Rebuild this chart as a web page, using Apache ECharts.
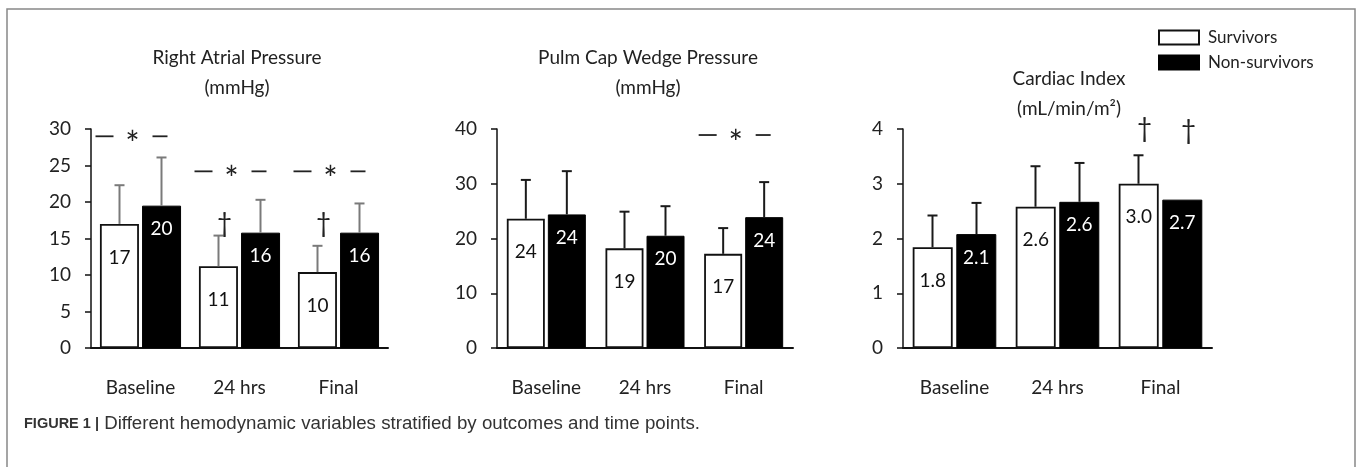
<!DOCTYPE html>
<html><head><meta charset="utf-8">
<script src="https://cdn.jsdelivr.net/npm/echarts@6/dist/echarts.min.js"></script>
<style>html,body{margin:0;padding:0;background:#fff}#c{width:1358px;height:467px}</style>
</head><body><div id="c"></div>
<script>
// ---------- data ----------
const categories = ['Baseline', '24 hrs', 'Final'];

const raSurv = [17.0, 11.2, 10.4];
const raSurvSD = [5.3, 4.2, 3.6];
const raNon = [19.5, 15.8, 15.8];
const raNonSD = [6.6, 4.5, 4.0];
const raSurvLabels = ['17', '11', '10'];
const raNonLabels = ['20', '16', '16'];
const raStarLevel = [29.0, 24.2, 24.2];      // "— * —" marks (axis units)
const raDaggerSurv = [null, 17.1, 17.1];      // † over survivors

const pcSurv = [23.6, 18.2, 17.2];
const pcSurvSD = [7.1, 6.7, 4.7];
const pcNon = [24.4, 20.5, 23.9];
const pcNonSD = [7.9, 5.4, 6.4];
const pcSurvLabels = ['24', '19', '17'];
const pcNonLabels = ['24', '20', '24'];
const pcStarLevel = [null, null, 38.9];

const ciSurv = [1.84, 2.58, 3.0];
const ciSurvSD = [0.58, 0.74, 0.52];
const ciNon = [2.08, 2.67, 2.71];
const ciNonSD = [0.57, 0.71, null];
const ciSurvLabels = ['1.8', '2.6', '3.0'];
const ciNonLabels = ['2.1', '2.6', '2.7'];
const ciDaggerSurv = [null, null, 4.0];
const ciDaggerNon = [null, null, 3.97];

const raTicks = {min: 0, max: 30, interval: 5};
const pcTicks = {min: 0, max: 40, interval: 10};
const ciTicks = {min: 0, max: 4, interval: 1};

// ---------- layout / styles ----------
const FONT = 'Lato';
const panels = [
  {left: 91, width: 297, barW: 39, gap: '8%', half: 21, errColor: '#7a7a7a',
   surv: raSurv, survSD: raSurvSD, non: raNon, nonSD: raNonSD, sl: raSurvLabels, nl: raNonLabels, ticks: raTicks,
   star: raStarLevel, dagS: raDaggerSurv, dagN: null},
  {left: 497, width: 296, barW: 38, gap: '8%', half: 20.5, errColor: '#1a1a1a',
   surv: pcSurv, survSD: pcSurvSD, non: pcNon, nonSD: pcNonSD, sl: pcSurvLabels, nl: pcNonLabels, ticks: pcTicks,
   star: pcStarLevel, dagS: null, dagN: null},
  {left: 903, width: 309, barW: 40, gap: '9%', half: 22, errColor: '#1a1a1a',
   surv: ciSurv, survSD: ciSurvSD, non: ciNon, nonSD: ciNonSD, sl: ciSurvLabels, nl: ciNonLabels, ticks: ciTicks,
   star: null, dagS: ciDaggerSurv, dagN: ciDaggerNon}
];

const grid = [], xAxis = [], yAxis = [], series = [];
panels.forEach((p, i) => {
  grid.push({left: p.left, width: p.width, top: 129, height: 219, containLabel: false});
  xAxis.push({type: 'category', gridIndex: i, data: categories,
    axisLine: {lineStyle: {color: '#111', width: 2}}, axisTick: {show: false},
    axisLabel: {color: '#222', fontSize: 19, fontFamily: FONT, margin: 30}});
  yAxis.push({type: 'value', gridIndex: i, min: p.ticks.min, max: p.ticks.max, interval: p.ticks.interval,
    splitLine: {show: false},
    axisLine: {show: true, lineStyle: {color: '#111', width: 1.5}},
    axisTick: {show: true, inside: false, length: 6, lineStyle: {color: '#111', width: 1.5}},
    axisLabel: {color: '#222', fontSize: 19, fontFamily: FONT, margin: 20}});
  series.push({type: 'bar', name: 'Survivors', xAxisIndex: i, yAxisIndex: i, data: p.surv,
    barWidth: p.barW, barGap: p.gap,
    itemStyle: {color: '#fff', borderColor: '#111', borderWidth: 1.8},
    label: {show: true, position: 'insideTop', distance: 24, color: '#111', fontSize: 19, fontFamily: FONT,
      formatter: d => p.sl[d.dataIndex]}});
  series.push({type: 'bar', name: 'Non-survivors', xAxisIndex: i, yAxisIndex: i, data: p.non,
    barWidth: p.barW, barGap: p.gap,
    itemStyle: {color: '#000', borderColor: '#000', borderWidth: 1},
    label: {show: true, position: 'insideTop', distance: 14, color: '#fff', fontSize: 19, fontFamily: FONT,
      formatter: d => p.nl[d.dataIndex]}});
  // error bars
  const errData = [];
  categories.forEach((c, k) => {
    if (p.survSD[k] != null) errData.push([k, p.surv[k], p.survSD[k], -1]);
    if (p.nonSD[k] != null) errData.push([k, p.non[k], p.nonSD[k], 1]);
  });
  series.push({type: 'custom', xAxisIndex: i, yAxisIndex: i, z: 5, silent: true, data: errData,
    renderItem: (params, api) => {
      const k = api.value(0), m = api.value(1), sd = api.value(2), side = api.value(3);
      const b = api.coord([k, m]), t = api.coord([k, m + sd]);
      const x = b[0] + side * p.half;
      return {type: 'group', children: [
        {type: 'line', shape: {x1: x, y1: b[1], x2: x, y2: t[1]}, style: {stroke: p.errColor, lineWidth: 2}},
        {type: 'line', shape: {x1: x - 5, y1: t[1], x2: x + 5, y2: t[1]}, style: {stroke: p.errColor, lineWidth: 2}}
      ]};
    }});
  // significance marks
  if (p.star) {
    const sData = [];
    p.star.forEach((v, k) => { if (v != null) sData.push([k, v]); });
    series.push({type: 'custom', xAxisIndex: i, yAxisIndex: i, z: 6, silent: true, data: sData,
      renderItem: (params, api) => {
        const c = api.coord([api.value(0), api.value(1)]);
        return {type: 'group', children: [
          {type: 'line', shape: {x1: c[0] - 45, y1: c[1], x2: c[0] - 27, y2: c[1]}, style: {stroke: '#222', lineWidth: 1.8}},
          {type: 'line', shape: {x1: c[0] + 12, y1: c[1], x2: c[0] + 27, y2: c[1]}, style: {stroke: '#222', lineWidth: 1.8}},
          {type: 'text', style: {text: '*', x: c[0] - 8, y: c[1] + 9, fontSize: 34, fontFamily: FONT,
            fill: '#222', align: 'center', verticalAlign: 'middle'}}
        ]};
      }});
  }
  const dag = [];
  if (p.dagS) p.dagS.forEach((v, k) => { if (v != null) dag.push([k, v, -1]); });
  if (p.dagN) p.dagN.forEach((v, k) => { if (v != null) dag.push([k, v, 1]); });
  if (dag.length) {
    series.push({type: 'custom', xAxisIndex: i, yAxisIndex: i, z: 6, silent: true, data: dag,
      renderItem: (params, api) => {
        const c = api.coord([api.value(0), api.value(1)]);
        return {type: 'text', style: {text: '†', x: c[0] + api.value(2) * p.half + 6, y: c[1],
          fontSize: 26, fontFamily: FONT, fill: '#222', align: 'center', verticalAlign: 'middle'}};
      }});
  }
});

const titleStyle = {color: '#222', fontSize: 19, fontFamily: FONT, fontWeight: 'normal', lineHeight: 30, align: 'center'};
const option = {
  animation: false,
  backgroundColor: '#fff',
  title: [
    {text: 'Right Atrial Pressure\n(mmHg)', left: 232, top: 38, textAlign: 'center', textStyle: titleStyle},
    {text: 'Pulm Cap Wedge Pressure\n(mmHg)', left: 643, top: 38, textAlign: 'center', textStyle: titleStyle},
    {text: 'Cardiac Index\n(mL/min/m²)', left: 1064, top: 59, textAlign: 'center', textStyle: titleStyle},
    {text: '{b|FIGURE 1 |} Different hemodynamic variables stratified by outcomes and time points.',
     left: 19, top: 409,
     textStyle: {fontSize: 18.7, fontFamily: 'Liberation Sans', color: '#333', fontWeight: 'normal',
       rich: {b: {fontWeight: 'bold', fontSize: 14.5, fontFamily: 'Liberation Sans', color: '#333'}}}}
  ],
  legend: {data: ['Survivors', 'Non-survivors'], orient: 'vertical', left: 1153, top: 24,
    icon: 'rect', itemWidth: 40, itemHeight: 14, itemGap: 8, selectedMode: false,
    textStyle: {color: '#222', fontSize: 17, fontFamily: FONT, padding: [0, 0, 0, 4]}},
  grid, xAxis, yAxis, series,
  graphic: [{type: 'rect', shape: {x: 7, y: 9, width: 1348, height: 500},
    style: {fill: 'none', stroke: '#888', lineWidth: 1.5}, silent: true}]
};
const chart = echarts.init(document.getElementById('c'));
chart.setOption(option);
</script></body></html>
